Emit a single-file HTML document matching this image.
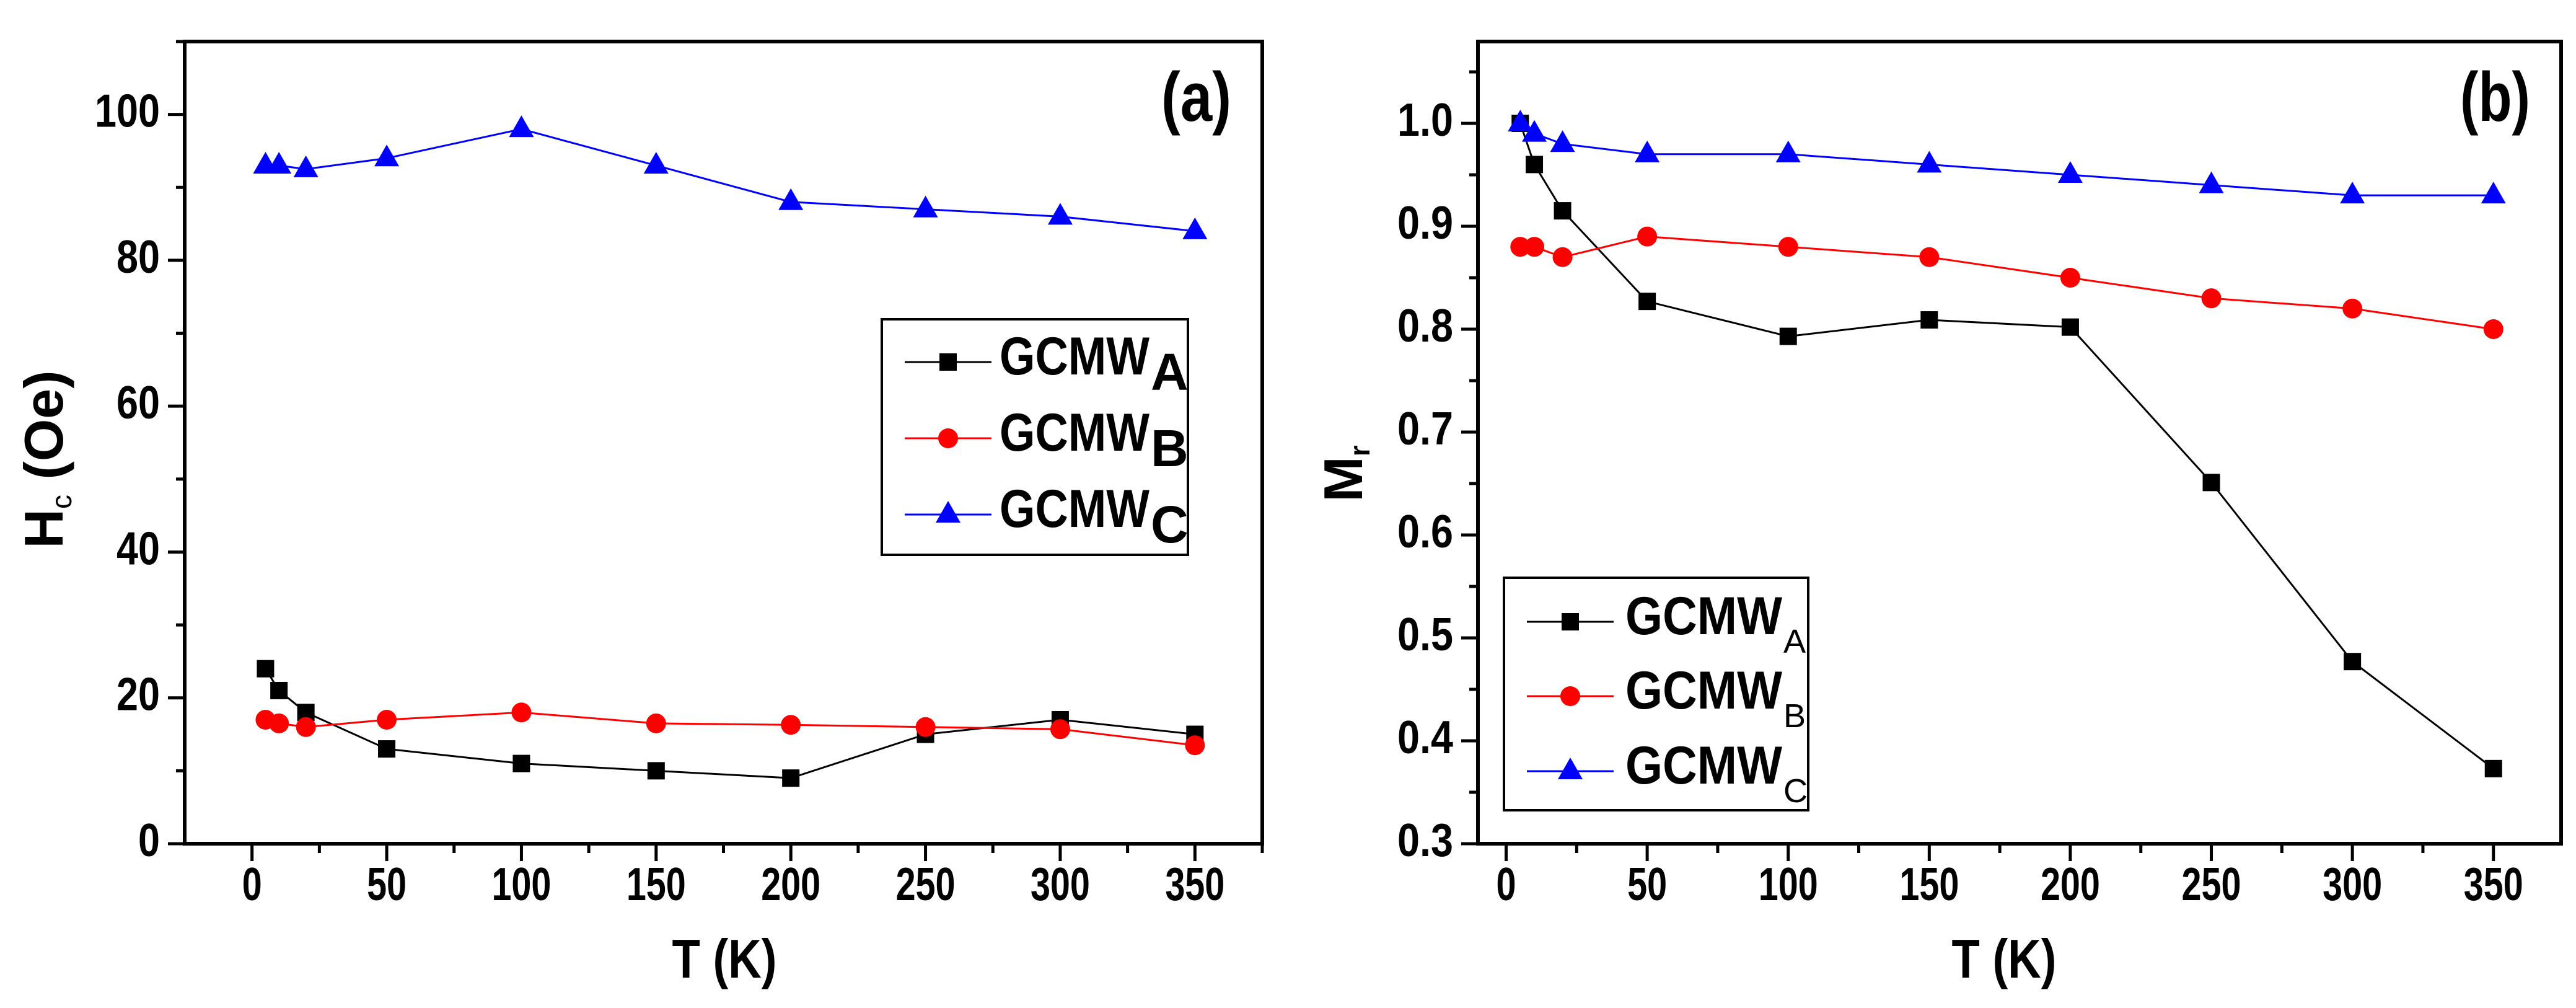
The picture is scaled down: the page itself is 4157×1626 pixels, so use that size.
<!DOCTYPE html>
<html><head><meta charset="utf-8"><style>
html,body{margin:0;padding:0;background:#fff;}
svg{display:block;font-family:"Liberation Sans",Arial,sans-serif;font-weight:bold;}
</style></head><body>
<svg id="chart" width="4157" height="1626" viewBox="0 0 4157 1626" xmlns="http://www.w3.org/2000/svg"></svg>
<script>
const temps = [5,10,20,50,100,150,200,250,300,350];
const hcA = [24,21,18,13,11,10,9,15,17,15];
const hcB = [17,16.5,16,17,18,16.5,16.3,16,15.7,13.5];
const hcC = [93,93,92.5,94,98,93,88,87,86,84];
const mrA = [1.0,0.96,0.915,0.827,0.793,0.809,0.802,0.651,0.477,0.373];
const mrB = [0.88,0.88,0.87,0.89,0.88,0.87,0.85,0.83,0.82,0.80];
const mrC = [1.0,0.99,0.98,0.97,0.97,0.96,0.95,0.94,0.93,0.93];
const xTicks = [0,50,100,150,200,250,300,350];
const hcTicks = [0,20,40,60,80,100];
const mrTicks = [0.3,0.4,0.5,0.6,0.7,0.8,0.9,1.0];

const NS="http://www.w3.org/2000/svg";
const svg=document.getElementById('chart');
function mk(tag,attrs,parent){const e=document.createElementNS(NS,tag);for(const k in attrs)e.setAttribute(k,attrs[k]);(parent||svg).appendChild(e);return e;}

function panel(cfg){
  const g=mk('g',{});
  
  
  const L=cfg.left,R=cfg.right,T=67,B=1361;
  const sx=v=>L+(v-cfg.xmin)/(cfg.xmax-cfg.xmin)*(R-L);
  const sy=v=>B-(v-cfg.ymin)/(cfg.ymax-cfg.ymin)*(B-T);
  const frame=mk('rect',{x:L,y:T,width:R-L,height:B-T,fill:'none',stroke:'#000','stroke-width':6},g);
  
  
  for(let v=0;v<=cfg.xmax;v+=25){
    const major=v%50===0;
    const t=mk('line',{x1:sx(v),x2:sx(v),y1:B,y2:B+(major?28:15),stroke:'#000','stroke-width':5},g);
    
    
  }
  xTicks.forEach(v=>{
    const t=mk('text',{x:sx(v),y:1452,'font-size':75,'text-anchor':'middle',textLength:(String(v).length*32),lengthAdjust:'spacingAndGlyphs'},g);
    t.textContent=v;
    
    
  });
  for(let i=0;;i++){
    const v=cfg.ymin+i*cfg.yminor; if(v>cfg.ymax+1e-9)break;
    const major=i%2===0;
    const t=mk('line',{x1:L,x2:L-(major?27:14),y1:sy(v),y2:sy(v),stroke:'#000','stroke-width':5},g);
    
    
  }
  cfg.yticks.forEach(v=>{
    const s=cfg.fmt(v);
    const t=mk('text',{x:cfg.ylabX,y:sy(v)+20,'font-size':75,'text-anchor':'end',textLength:(s.length*cfg.cw),lengthAdjust:'spacingAndGlyphs'},g);
    t.textContent=s;
    
    
  });
  const xt=mk('text',{x:cfg.xtitleX,y:1577,'font-size':88,'text-anchor':'middle',textLength:169,lengthAdjust:'spacingAndGlyphs'},g);
  xt.textContent='T (K)';
  
  
  const yt=mk('text',{transform:`translate(${cfg.ytitleX},${cfg.ytitleY}) rotate(-90)`,'font-size':88,'text-anchor':'middle'},g);
  yt.innerHTML=cfg.ytitle;
  
  
  const pl=mk('text',{x:R-50,y:195,'font-size':112,'text-anchor':'end',textLength:113,lengthAdjust:'spacingAndGlyphs'},g);
  pl.textContent=cfg.label;
  
  
  const series=[{d:cfg.A,c:'#000',m:'sq',n:'A'},{d:cfg.B,c:'#f00',m:'ci',n:'B'},{d:cfg.C,c:'#00f',m:'tr',n:'C'}];
  series.forEach(s=>{
    const line=mk('polyline',{points:temps.map((t,i)=>sx(t)+','+sy(s.d[i])).join(' '),fill:'none',stroke:s.c,'stroke-width':3},g);
    
    
    temps.forEach((t,i)=>{
      const m=marker(g,s.m,sx(t),sy(s.d[i]),s.c);
      
      
    });
  });
  const lg=mk('g',{},g);
  
  
  const lb=cfg.leg;
  mk('rect',{x:lb.x,y:lb.y,width:lb.w,height:lb.h,fill:'#fff',stroke:'#000','stroke-width':4},lg);
  series.forEach((s,i)=>{
    const ry=lb.rows[i];
    const e=mk('g',{},lg);
    
    
    mk('line',{x1:lb.x+37,x2:lb.x+177,y1:ry,y2:ry,stroke:s.c,'stroke-width':3},e);
    marker(e,s.m,lb.x+107,ry,s.c);
    const tx=mk('text',{x:lb.tx,y:ry+20,'font-size':86,textLength:lb.tw,lengthAdjust:'spacingAndGlyphs'},e);
    tx.textContent='GCMW';
    const sb=mk('text',{x:lb.tx+lb.tw+2,y:ry+20+lb.subdy,'font-size':lb.subfs,'font-weight':lb.subw},e);
    sb.textContent=s.n;
  });
}
function marker(parent,type,x,y,c){
  if(type==='sq')return mk('rect',{x:x-14,y:y-14,width:28,height:28,fill:c},parent);
  if(type==='ci')return mk('circle',{cx:x,cy:y,r:16,fill:c},parent);
  return mk('polygon',{points:`${x},${y-22} ${x-20},${y+13} ${x+20},${y+13}`,fill:c},parent);
}
panel({name:'panel-a-coercivity',left:298,right:2037,xmin:-25,xmax:375,ymin:0,ymax:110,yminor:10,
  yticks:hcTicks,fmt:v=>String(v),ylabX:258,cw:35,xtitleX:1169,ytitleX:101,ytitleY:741,
  ytitle:'H<tspan font-size="46" font-weight="normal" dy="14">c</tspan><tspan dy="-14"> (Oe)</tspan>',label:'(a)',
  A:hcA,B:hcB,C:hcC,
  leg:{x:1423,y:515,w:494,h:380,rows:[584,707,830],tx:1613,tw:242,subdy:25,subfs:84,subw:'bold'}});
panel({name:'panel-b-remanence',left:2385,right:4133,xmin:-10,xmax:374,ymin:0.3,ymax:1.0795,yminor:0.05,
  yticks:mrTicks,fmt:v=>v.toFixed(1),ylabX:2345,cw:30,xtitleX:3234,ytitleX:2198,ytitleY:764,
  ytitle:'M<tspan font-size="46" dy="12">r</tspan>',label:'(b)',
  A:mrA,B:mrB,C:mrC,
  leg:{x:2427,y:932,w:491,h:375,rows:[1003,1123,1244],tx:2623,tw:253,subdy:30,subfs:54,subw:'normal'}});
</script>
</body></html>
